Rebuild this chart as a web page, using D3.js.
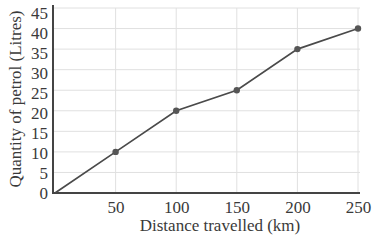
<!DOCTYPE html>
<html><head><meta charset="utf-8">
<script src="https://cdn.jsdelivr.net/npm/d3@7"></script>
<style>body{margin:0;background:#fff}svg{display:block}</style>
</head><body><svg id="c" width="388" height="242"></svg>
<script>
const distances = [0, 50, 100, 150, 200, 250];
const petrol = [0, 10, 20, 25, 35, 40];
const xTicks = [50, 100, 150, 200, 250];
const yTicks = [0, 5, 10, 15, 20, 25, 30, 35, 40, 45];

const svg = d3.select("#c");
const x = d3.scaleLinear().domain([0, 250]).range([55, 358]);
const y = d3.scaleLinear().domain([0, 45]).range([193, 8]);
const font = "'Liberation Serif', 'Times New Roman', serif";
const txt = "#3a3a3a";

// grid
svg.append("g").selectAll("line").data(yTicks.slice(1)).join("line")
  .attr("x1", 54).attr("x2", x(250) + 2).attr("y1", d => y(d)).attr("y2", d => y(d))
  .attr("stroke", "#e0e0e0").attr("stroke-width", 1);
svg.append("g").selectAll("line").data(xTicks).join("line")
  .attr("x1", d => x(d)).attr("x2", d => x(d)).attr("y1", y(45)).attr("y2", y(0))
  .attr("stroke", "#e0e0e0").attr("stroke-width", 1);

// axes
const xAxis = d3.axisBottom(x).tickValues(xTicks).tickSize(0).tickPadding(8);
const gx = svg.append("g").attr("transform", `translate(0,${y(0)})`).call(xAxis);
gx.select(".domain").remove();
gx.selectAll("text").attr("font-family", font).attr("font-size", 17).attr("fill", txt);

const yAxis = d3.axisLeft(y).tickValues(yTicks).tickSize(0).tickPadding(5);
const gy = svg.append("g").attr("transform", `translate(53,0)`).call(yAxis);
gy.select(".domain").remove();
gy.selectAll(".tick text").attr("font-family", font).attr("font-size", 17).attr("fill", txt)
  .attr("dy", "0.3em").attr("y", d => (d / 45) * 5);

svg.append("line").attr("x1", 53).attr("x2", 53).attr("y1", 5).attr("y2", y(0) + 1)
  .attr("stroke", "#444").attr("stroke-width", 2);
svg.append("line").attr("x1", 52).attr("x2", x(250) + 2).attr("y1", y(0)).attr("y2", y(0))
  .attr("stroke", "#444").attr("stroke-width", 2);

// line
const pts = distances.map((d, i) => [d, petrol[i]]);
svg.append("path").datum(pts)
  .attr("d", d3.line().x(d => x(d[0])).y(d => y(d[1])))
  .attr("fill", "none").attr("stroke", "#4a4a4a").attr("stroke-width", 1.7);
svg.append("g").selectAll("circle").data(pts.slice(1)).join("circle")
  .attr("cx", d => x(d[0])).attr("cy", d => y(d[1])).attr("r", 3.2)
  .attr("fill", "#555");

// titles
svg.append("text").attr("x", 220).attr("y", 231).attr("text-anchor", "middle")
  .attr("font-family", font).attr("font-size", 17).attr("fill", txt)
  .text("Distance travelled (km)");
svg.append("text").attr("transform", "translate(21,99) rotate(-90)")
  .attr("text-anchor", "middle").attr("font-family", font).attr("font-size", 17).attr("fill", txt)
  .text("Quantity of petrol (Litres)");
</script></body></html>
